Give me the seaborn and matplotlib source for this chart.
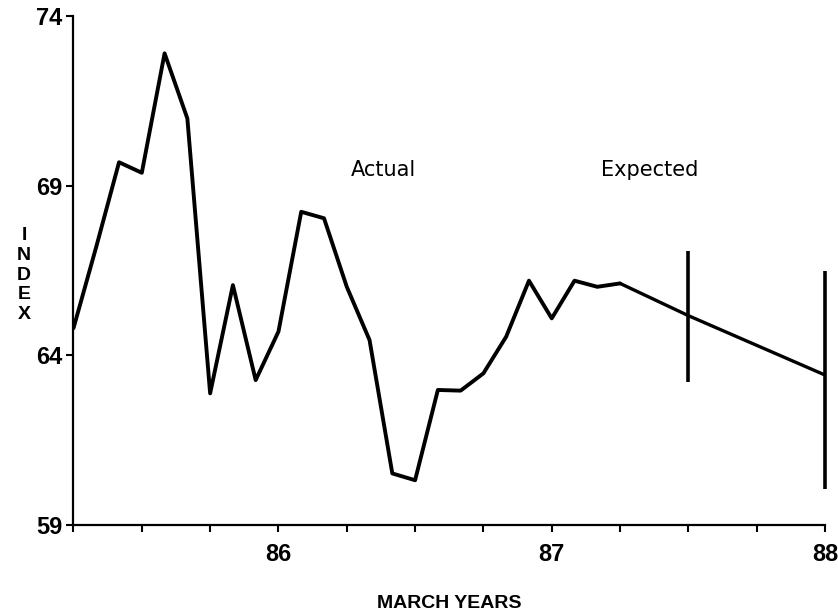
import numpy as np
import pandas as pd
import matplotlib
matplotlib.use("Agg")
import matplotlib.pyplot as plt
import seaborn as sns

# monthly index values, starting March 85 (85.25), step 1/12 year
actual_start = 85.25
actual_values = [64.80, 67.20, 69.69, 69.38, 72.90, 70.98, 62.88, 66.07,
                 63.27, 64.70, 68.23, 68.04, 66.02, 64.45, 60.52, 60.32,
                 62.98, 62.96, 63.47, 64.55, 66.20, 65.09, 66.20, 66.02, 66.12]

# expected path (continues from the last actual point)
expected_x = [87.25, 87.5, 88.0]
expected_y = [66.12, 65.17, 63.42]

# uncertainty ranges on the expected values
range_x = [87.5, 88.0]
range_low = [63.21, 60.06]
range_high = [67.07, 66.48]

y_ticks = [59, 64, 69, 74]
x_ticks = [85.25 + 0.25 * i for i in range(12)]
x_labels = {86.0: "86", 87.0: "87", 88.0: "88"}

sns.set_theme(style="ticks")
narrow = ['Liberation Sans', 'DejaVu Sans']
plt.rcParams['font.family'] = ['DejaVu Sans']
plt.rcParams['text.color'] = 'black'
plt.rcParams['xtick.color'] = 'black'
plt.rcParams['ytick.color'] = 'black'

df_act = pd.DataFrame({
    "year": actual_start + np.arange(len(actual_values)) / 12.0,
    "index": actual_values,
})
df_exp = pd.DataFrame({"year": expected_x, "index": expected_y})

fig = plt.figure(figsize=(8.38, 6.16), dpi=100)
ax = fig.add_axes([0.0877, 0.1477, 0.8968, 0.8263])

sns.lineplot(data=df_act, x="year", y="index", ax=ax, color="black",
             linewidth=2.8, estimator=None, sort=False)
sns.lineplot(data=df_exp, x="year", y="index", ax=ax, color="black",
             linewidth=2.4, estimator=None, sort=False)
ax.vlines(range_x, range_low, range_high, color="black", linewidth=2.6,
          clip_on=False)

ax.set_xlim(85.25, 88.0)
ax.set_ylim(59, 74)
ax.set_yticks(y_ticks)
ax.set_yticklabels([str(t) for t in y_ticks], fontsize=17, fontweight="bold",
                   family=narrow)
ax.set_xticks(x_ticks)
ax.set_xticklabels([x_labels.get(round(t, 2), "") for t in x_ticks],
                   fontsize=17, fontweight="bold", family=narrow)
ax.tick_params(axis="both", direction="out", length=5, width=1.5, color="black",
               pad=3)
ax.tick_params(axis="x", pad=8)

for s in ["top", "right"]:
    ax.spines[s].set_visible(False)
for s in ["left", "bottom"]:
    ax.spines[s].set_linewidth(1.6)
    ax.spines[s].set_color("black")

ax.set_xlabel("")
ax.set_ylabel("")

ax.text(86.384, 69.46, "Actual", fontsize=15, ha="center", va="center")
ax.text(87.357, 69.46, "Expected", fontsize=15, ha="center", va="center")

fig.text(449 / 838, 1 - 603 / 616, "MARCH YEARS", fontsize=14, ha="center",
         va="center", fontweight="bold", family=narrow)
fig.text(24 / 838, 1 - 275 / 616, "I\nN\nD\nE\nX", fontsize=14, ha="center",
         va="center", fontweight="bold", linespacing=1.2, family=narrow)

fig.savefig("out.png", dpi=100)
